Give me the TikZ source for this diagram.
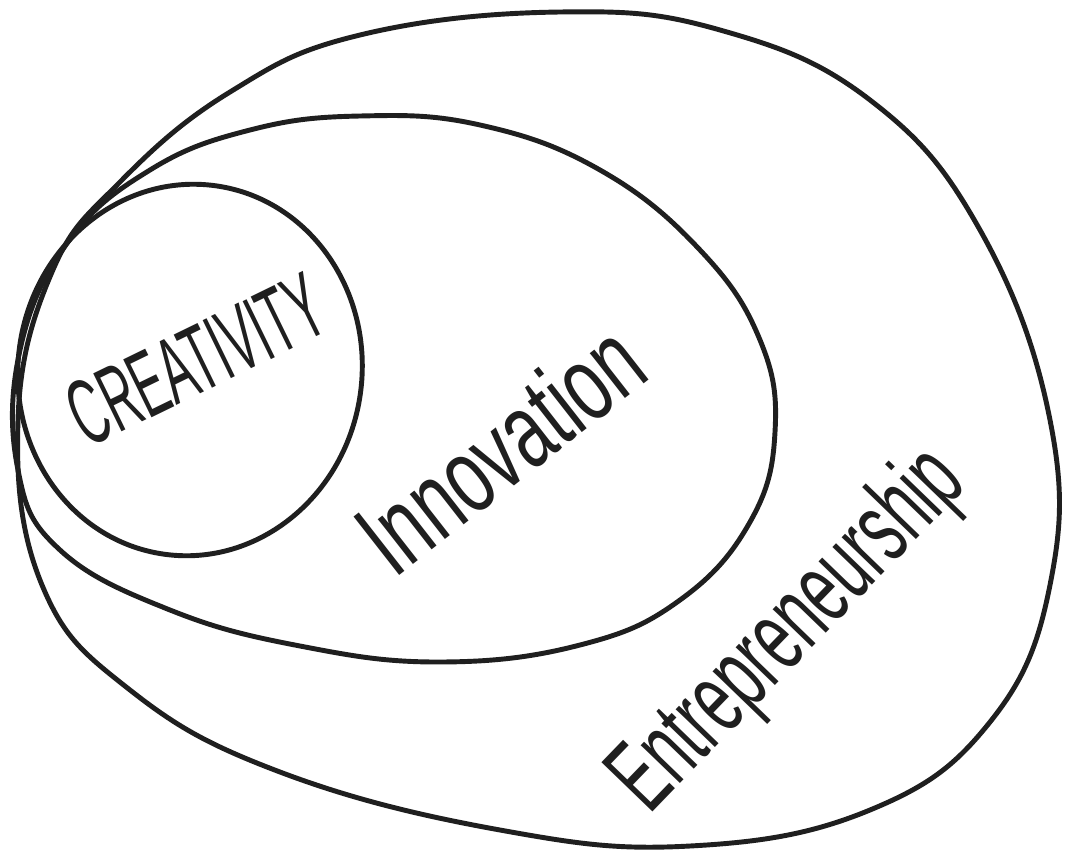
\documentclass[tikz,border=0pt]{standalone}
\usepackage{fontspec}
\setmainfont{Liberation Sans}
\begin{document}
\begin{tikzpicture}[x=0.3mm,y=-0.3mm,
  pen/.style={draw=black!88,line width=4.2pt,line join=round,line cap=round},
  hand/.style={inner sep=0pt,text=black!88}]
\useasboundingbox[fill=white] (0,0) rectangle (1065,854);
% Entrepreneurship
\draw[pen] plot[smooth cycle,tension=0.7] coordinates {
 (18,420) (52,272) (120,182) (230,92) (360,35) (560,12) (720,30) (870,100)
 (980,230) (1050,420) (1050,585) (990,722) (870,810) (690,846) (500,830)
 (280,772) (130,690) (42,585)};
% Innovation
\draw[pen] plot[smooth cycle,tension=0.7] coordinates {
 (20,350) (68,242) (150,170) (250,130) (360,116) (480,125) (600,170) (700,250)
 (760,340) (775,432) (750,522) (680,600) (580,645) (440,662) (300,646)
 (170,610) (60,550) (18,470)};
% Creativity
\draw[pen,rotate around={-8:(190,370)}] (190,370) ellipse[x radius=172,y radius=186];
\node[hand,rotate=26,xscale=0.5] (c) at (196,360) {\fontsize{80}{80}\selectfont CREATIVITY};
\node[hand,rotate=38,xscale=0.66] (i) at (500,448) {\fontsize{92}{92}\selectfont Innovation};
\node[hand,rotate=46,xscale=0.58] (e) at (790,632) {\fontsize{88}{88}\selectfont Entrepreneurship};
\end{tikzpicture}
\end{document}
